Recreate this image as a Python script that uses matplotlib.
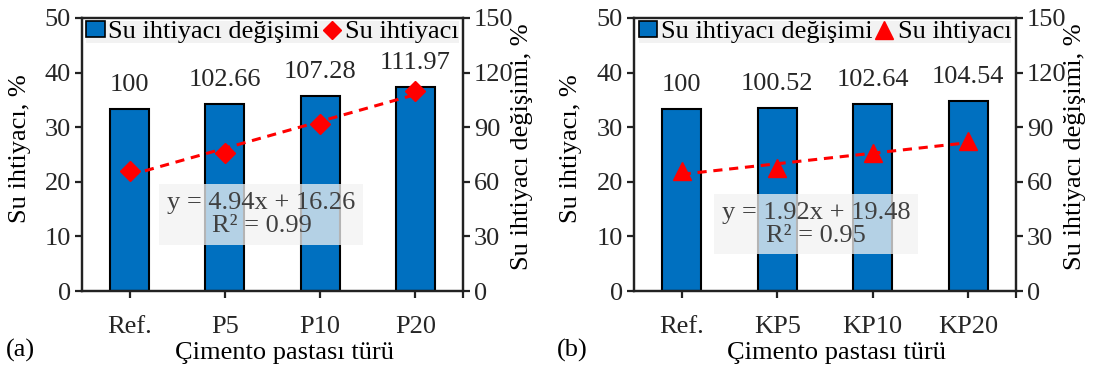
import matplotlib
matplotlib.use("Agg")
import matplotlib.pyplot as plt
import numpy as np
from matplotlib.lines import Line2D
from matplotlib.patches import Patch

plt.rcParams['font.family'] = ['Liberation Serif', 'DejaVu Serif']
plt.rcParams['font.size'] = 19

# ---- data ----
cats_a = ["Ref.", "P5", "P10", "P20"]
change_a = [100, 102.66, 107.28, 111.97]        # bars, right axis (%)
water_a = [22.0, 25.2, 30.6, 36.6]              # markers, left axis (%)
eq_a = "y = 4.94x + 16.26\nR² = 0.99"

cats_b = ["Ref.", "KP5", "KP10", "KP20"]
change_b = [100, 100.52, 102.64, 104.54]
water_b = [21.9, 22.5, 25.3, 27.4]
eq_b = "y = 1.92x + 19.48\nR² = 0.95"

left_ticks = [0, 10, 20, 30, 40, 50]
right_ticks = [0, 30, 60, 90, 120, 150]

bar_label = "Su ihtiyacı değişimi"
pt_label = "Su ihtiyacı"
ylabel_left = "Su ihtiyacı, %"
ylabel_right = "Su ihtiyacı değişimi, %"
xlabel = "Çimento pastası türü"

BLUE = "#0070c0"
RED = "#ff0000"

W, H = 1099, 368
fig = plt.figure(figsize=(W / 100, H / 100), dpi=100)


def panel(left_px, width_px, cats, change, water, eq, marker, ms, tag, eqpos):
    bottom = (H - 291) / H
    height = 273 / H
    ax = fig.add_axes([left_px / W, bottom, width_px / W, height])
    ax2 = ax.twinx()
    ax.set_zorder(ax2.get_zorder() + 1)
    ax.patch.set_visible(False)

    x = np.arange(len(cats))
    ax2.bar(x, change, width=0.41, color=BLUE, edgecolor="black", linewidth=1.5, zorder=2)
    for xi, v in zip(x, change):
        ax2.annotate(f"{v:g}", (xi, v), xytext=(0, 13), textcoords="offset points",
                     ha="center", va="baseline", fontsize=19, color="#262626")

    ax.plot(x, water, linestyle="none", marker=marker, ms=ms, color=RED, zorder=4)
    k, b0 = np.polyfit(x + 1, water, 1)
    xx = np.array([x[0], x[-1]])
    ax.plot(xx, k * (xx + 1) + b0, color=RED, lw=2.2, dashes=(3, 2.2), zorder=3)

    ax.set_xlim(-0.5, len(cats) - 0.5)
    ax.set_ylim(0, 50)
    ax2.set_ylim(0, 150)
    ax.set_yticks(left_ticks)
    ax2.set_yticks(right_ticks)
    ax.set_xticks(x)
    ax.set_xticklabels(cats)
    ax.set_xticks([len(cats) - 0.5], minor=True)

    for a in (ax, ax2):
        for s in a.spines.values():
            s.set_linewidth(1.6)
            s.set_color("#222222")
        a.tick_params(which="both", direction="out", length=5, width=1.6, color="#222222",
                      labelsize=19, labelcolor="#262626", pad=3)
    ax.tick_params(axis="x", pad=13)

    ax.set_ylabel(ylabel_left, fontsize=19)
    ax.yaxis.set_label_coords(-0.135, 0.52)
    ax2.set_ylabel(ylabel_right, fontsize=19)
    ax2.yaxis.set_label_coords(1.125, 0.53)
    ax.set_xlabel(xlabel, fontsize=19)
    ax.xaxis.set_label_coords(0.531, -0.185)

    ax.text(eqpos[0], eqpos[1], eq, transform=ax.transAxes, ha="center", va="center",
            multialignment="center", fontsize=19, color="#404040", linespacing=1.05,
            bbox=dict(boxstyle="square,pad=0.3", facecolor="#f2f2f2", alpha=0.75,
                      edgecolor="none"), zorder=5)

    handles = [Patch(facecolor=BLUE, edgecolor="black", linewidth=1.2),
               Line2D([], [], linestyle="none", marker=marker, ms=ms * 0.95, color=RED)]
    leg = ax.legend(handles, [bar_label, pt_label], loc="upper center", ncol=2,
                    bbox_to_anchor=(0.5, 0.99), frameon=True, fontsize=19,
                    handlelength=0.7, handleheight=0.6, handletextpad=0.15,
                    columnspacing=0.1, borderpad=0.0, borderaxespad=0.0, fancybox=False)
    leg.get_frame().set_facecolor("#f2f2f2")
    leg.get_frame().set_edgecolor("none")
    leg.get_frame().set_alpha(1)

    fig.text((left_px - 62) / W, (H - 350) / H, tag, ha="center", va="center", fontsize=19)
    return ax, ax2


panel(82, 381, cats_a, change_a, water_a, eq_a, "D", 10, "(a)", (0.471, 0.28))
panel(634, 382, cats_b, change_b, water_b, eq_b, "^", 13, "(b)", (0.476, 0.245))

fig.savefig("out.png", dpi=100)
